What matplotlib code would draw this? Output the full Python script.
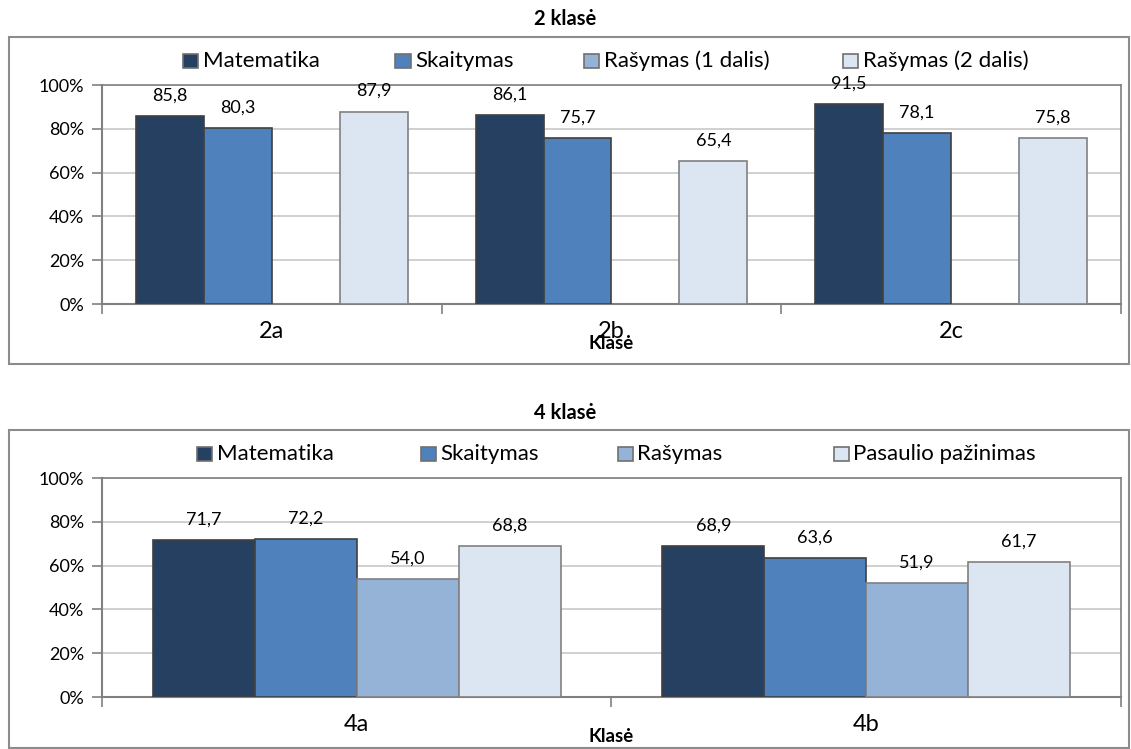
import numpy as np
import matplotlib
matplotlib.use("Agg")
import matplotlib.pyplot as plt
from matplotlib.patches import Rectangle

plt.rcParams['font.family'] = ['Lato', 'DejaVu Sans']

# ---------------- DUOMENYS ----------------
klases_2 = ["2a", "2b", "2c"]
serijos_2 = ["Matematika", "Skaitymas", "Rašymas (1 dalis)", "Rašymas (2 dalis)"]
matematika_2 = [85.8, 86.1, 91.5]
skaitymas_2 = [80.3, 75.7, 78.1]
rasymas1_2 = [None, None, None]
rasymas2_2 = [87.9, 65.4, 75.8]

klases_4 = ["4a", "4b"]
serijos_4 = ["Matematika", "Skaitymas", "Rašymas", "Pasaulio pažinimas"]
matematika_4 = [71.7, 68.9]
skaitymas_4 = [72.2, 63.6]
rasymas_4 = [54.0, 51.9]
pasaulio_4 = [68.8, 61.7]

y_ticks = [0, 20, 40, 60, 80, 100]

spalvos = ["#254061", "#4F81BD", "#95B3D7", "#DCE6F2"]
krastai = ["#404040", "#404040", "#808080", "#808080"]


def lt(v):
    return f"{v:.1f}".replace(".", ",")


def piesti(fig, rect, frame, title, klases, serijos, reiksmes, legend_x):
    # remelis aplink diagrama
    fig.patches.append(Rectangle((frame[0], frame[1]), frame[2], frame[3],
                                 transform=fig.transFigure, fill=False,
                                 edgecolor="#8c8c8c", linewidth=1.5))
    ax = fig.add_axes(rect)
    n = len(klases)
    x = np.arange(n)
    w = 0.2
    for i, vals in enumerate(reiksmes):
        for j, v in enumerate(vals):
            if v is None:
                continue
            xp = x[j] - 0.3 + i * w
            ax.bar(xp, v, width=w, color=spalvos[i], edgecolor=krastai[i],
                   linewidth=1.2, zorder=3)
            ax.annotate(lt(v), (xp, v), xytext=(0, 9), textcoords="offset points",
                        ha="center", va="bottom", fontsize=13, zorder=4)
    ax.set_xlim(-0.5, n - 0.5)
    ax.set_ylim(0, 100)
    ax.set_yticks(y_ticks)
    ax.set_yticklabels([f"{t}%" for t in y_ticks], fontsize=13)
    ax.yaxis.grid(True, color="#c8c8c8", linewidth=1.2, zorder=0)
    ax.set_axisbelow(True)
    ax.set_xticks(np.arange(n + 1) - 0.5)
    ax.set_xticklabels([])
    ax.set_xticks(x, minor=True)
    ax.set_xticklabels(klases, minor=True, fontsize=17)
    ax.tick_params(axis="x", which="major", length=7, color="#808080", width=1.2, direction="out")
    ax.tick_params(axis="x", which="minor", length=0, pad=12)
    ax.tick_params(axis="y", length=7, color="#808080", width=1.2, pad=6)
    for s in ["left", "bottom"]:
        ax.spines[s].set_color("#808080")
        ax.spines[s].set_linewidth(1.5)
    for s in ["top", "right"]:
        ax.spines[s].set_color("#808080")
        ax.spines[s].set_linewidth(1.2)
    ax.set_xlabel("Klasė", fontsize=13.5, fontweight="bold", labelpad=-5)
    fig.text(0.5, frame[1] + frame[3] + 0.023, title, ha="center", va="center",
             fontsize=14.5, fontweight="bold")
    # legenda
    ly = rect[1] + rect[3] + 0.032
    for i, nm in enumerate(serijos):
        fig.patches.append(Rectangle((legend_x[i], ly - 0.0095), 0.0135, 0.019,
                                     transform=fig.transFigure, facecolor=spalvos[i],
                                     edgecolor="#707070", linewidth=1.2))
        fig.text(legend_x[i] + 0.0175, ly, nm, ha="left", va="center", fontsize=16)
    return ax


fig = plt.figure(figsize=(11.31, 7.49), dpi=100)

piesti(fig, [0.0902, 0.5941, 0.9009, 0.2924], [0.008, 0.514, 0.990, 0.437],
       "2 klasė", klases_2, serijos_2,
       [matematika_2, skaitymas_2, rasymas1_2, rasymas2_2],
       [0.1620, 0.3495, 0.5165, 0.7455])

piesti(fig, [0.0902, 0.0694, 0.9009, 0.2924], [0.008, 0.002, 0.990, 0.424],
       "4 klasė", klases_4, serijos_4,
       [matematika_4, skaitymas_4, rasymas_4, pasaulio_4],
       [0.1740, 0.3720, 0.5460, 0.7370])

fig.savefig("out.png", dpi=100)
